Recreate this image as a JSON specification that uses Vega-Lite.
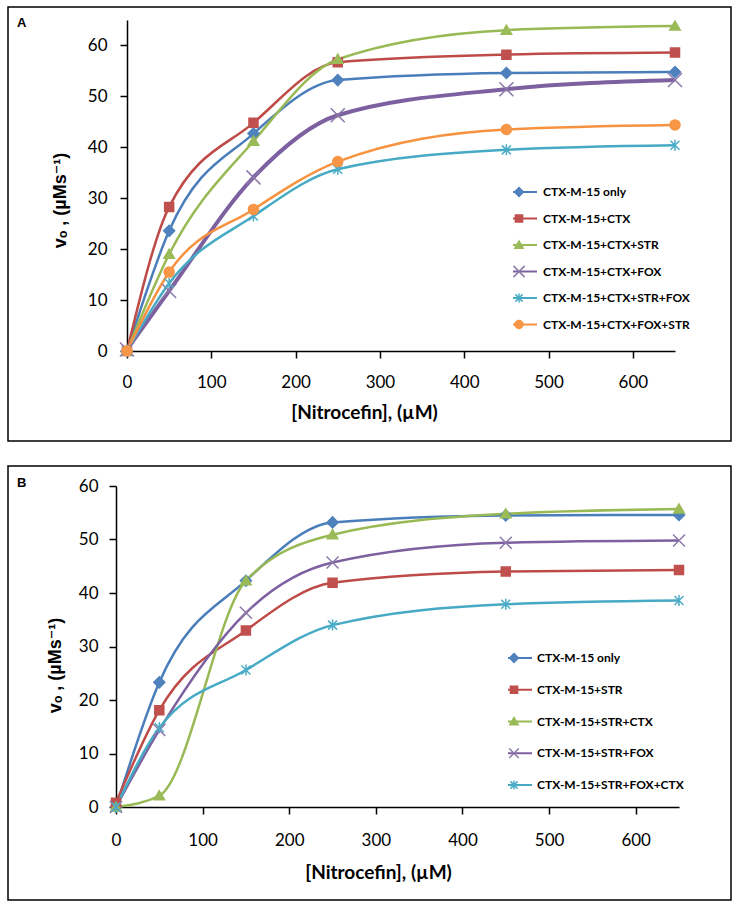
{
  "$schema": "https://vega.github.io/schema/vega-lite/v6.json",
  "padding": {"left": 7, "top": 6, "right": 0, "bottom": 0},
  "spacing": 23,
  "config": {
    "font": "Lato",
    "view": {"stroke": "#000", "strokeWidth": 1.5},
    "axis": {
      "grid": false, "domainColor": "#000", "domainWidth": 1.5,
      "tickColor": "#000", "tickWidth": 1.5, "tickSize": 7,
      "labelFont": "Lato", "labelFontSize": 17, "labelColor": "#000",
      "titleColor": "#000", "titleFontWeight": "bold",
      "labelFlush": false, "labelOverlap": false
    },
    "axisX": {"labelPadding": 16, "titleFont": "Lato", "titleFontSize": 19, "titleBaseline": "middle", "titleAlign": "center"},
    "axisY": {"labelPadding": 13, "titleFont": "Liberation Sans, DejaVu Sans", "titleFontSize": 18, "titleBaseline": "middle", "titleAlign": "center", "titleAngle": -90},
    "legend": {"labelFont": "Lato", "labelFontSize": 12, "labelFontWeight": "bold", "labelColor": "#000", "padding": 0, "clipHeight": 16}
  },
  "resolve": {"scale": {"x": "independent", "y": "independent", "color": "independent", "fill": "independent", "stroke": "independent", "shape": "independent", "strokeWidth": "independent"}, "legend": {"color": "independent", "fill": "independent", "stroke": "independent", "shape": "independent"}},
  "datasets": {
    "panelA": [
      {"series": "CTX-M-15 only", "x": 0, "y": 0},
      {"series": "CTX-M-15 only", "x": 50, "y": 23.6},
      {"series": "CTX-M-15 only", "x": 150, "y": 42.7},
      {"series": "CTX-M-15 only", "x": 250, "y": 53.2},
      {"series": "CTX-M-15 only", "x": 450, "y": 54.6},
      {"series": "CTX-M-15 only", "x": 650, "y": 54.8},
      {"series": "CTX-M-15+CTX", "x": 0, "y": 0},
      {"series": "CTX-M-15+CTX", "x": 50, "y": 28.3},
      {"series": "CTX-M-15+CTX", "x": 150, "y": 44.8},
      {"series": "CTX-M-15+CTX", "x": 250, "y": 56.7},
      {"series": "CTX-M-15+CTX", "x": 450, "y": 58.2},
      {"series": "CTX-M-15+CTX", "x": 650, "y": 58.6},
      {"series": "CTX-M-15+CTX+STR", "x": 0, "y": 0},
      {"series": "CTX-M-15+CTX+STR", "x": 50, "y": 19.0},
      {"series": "CTX-M-15+CTX+STR", "x": 150, "y": 41.2},
      {"series": "CTX-M-15+CTX+STR", "x": 250, "y": 57.3},
      {"series": "CTX-M-15+CTX+STR", "x": 450, "y": 63.0},
      {"series": "CTX-M-15+CTX+STR", "x": 650, "y": 63.8},
      {"series": "CTX-M-15+CTX+FOX", "x": 0, "y": 0.3},
      {"series": "CTX-M-15+CTX+FOX", "x": 50, "y": 11.8},
      {"series": "CTX-M-15+CTX+FOX", "x": 150, "y": 34.1},
      {"series": "CTX-M-15+CTX+FOX", "x": 250, "y": 46.3},
      {"series": "CTX-M-15+CTX+FOX", "x": 450, "y": 51.4},
      {"series": "CTX-M-15+CTX+FOX", "x": 650, "y": 53.2},
      {"series": "CTX-M-15+CTX+STR+FOX", "x": 0, "y": 0},
      {"series": "CTX-M-15+CTX+STR+FOX", "x": 50, "y": 13.3},
      {"series": "CTX-M-15+CTX+STR+FOX", "x": 150, "y": 26.5},
      {"series": "CTX-M-15+CTX+STR+FOX", "x": 250, "y": 35.7},
      {"series": "CTX-M-15+CTX+STR+FOX", "x": 450, "y": 39.5},
      {"series": "CTX-M-15+CTX+STR+FOX", "x": 650, "y": 40.4},
      {"series": "CTX-M-15+CTX+FOX+STR", "x": 0, "y": 0},
      {"series": "CTX-M-15+CTX+FOX+STR", "x": 50, "y": 15.5},
      {"series": "CTX-M-15+CTX+FOX+STR", "x": 150, "y": 27.8},
      {"series": "CTX-M-15+CTX+FOX+STR", "x": 250, "y": 37.2},
      {"series": "CTX-M-15+CTX+FOX+STR", "x": 450, "y": 43.5},
      {"series": "CTX-M-15+CTX+FOX+STR", "x": 650, "y": 44.4}
    ],
    "panelB": [
      {"series": "CTX-M-15 only", "x": 0, "y": 0},
      {"series": "CTX-M-15 only", "x": 50, "y": 23.3},
      {"series": "CTX-M-15 only", "x": 150, "y": 42.3},
      {"series": "CTX-M-15 only", "x": 250, "y": 53.2},
      {"series": "CTX-M-15 only", "x": 450, "y": 54.5},
      {"series": "CTX-M-15 only", "x": 650, "y": 54.6},
      {"series": "CTX-M-15+STR", "x": 0, "y": 0.8},
      {"series": "CTX-M-15+STR", "x": 50, "y": 18.1},
      {"series": "CTX-M-15+STR", "x": 150, "y": 33.0},
      {"series": "CTX-M-15+STR", "x": 250, "y": 41.9},
      {"series": "CTX-M-15+STR", "x": 450, "y": 44.0},
      {"series": "CTX-M-15+STR", "x": 650, "y": 44.3},
      {"series": "CTX-M-15+STR+CTX", "x": 0, "y": 0},
      {"series": "CTX-M-15+STR+CTX", "x": 50, "y": 2.1},
      {"series": "CTX-M-15+STR+CTX", "x": 150, "y": 42.3},
      {"series": "CTX-M-15+STR+CTX", "x": 250, "y": 50.9},
      {"series": "CTX-M-15+STR+CTX", "x": 450, "y": 54.8},
      {"series": "CTX-M-15+STR+CTX", "x": 650, "y": 55.7},
      {"series": "CTX-M-15+STR+FOX", "x": 0, "y": 0},
      {"series": "CTX-M-15+STR+FOX", "x": 50, "y": 14.4},
      {"series": "CTX-M-15+STR+FOX", "x": 150, "y": 36.3},
      {"series": "CTX-M-15+STR+FOX", "x": 250, "y": 45.7},
      {"series": "CTX-M-15+STR+FOX", "x": 450, "y": 49.4},
      {"series": "CTX-M-15+STR+FOX", "x": 650, "y": 49.8},
      {"series": "CTX-M-15+STR+FOX+CTX", "x": 0, "y": 0},
      {"series": "CTX-M-15+STR+FOX+CTX", "x": 50, "y": 14.8},
      {"series": "CTX-M-15+STR+FOX+CTX", "x": 150, "y": 25.6},
      {"series": "CTX-M-15+STR+FOX+CTX", "x": 250, "y": 34.0},
      {"series": "CTX-M-15+STR+FOX+CTX", "x": 450, "y": 37.9},
      {"series": "CTX-M-15+STR+FOX+CTX", "x": 650, "y": 38.6}
    ]
  },
  "vconcat": [
    {
      "width": 723,
      "height": 434,
      "title": {"text": "A", "anchor": "start", "frame": "group", "orient": "top", "offset": -23, "dx": 9, "font": "Liberation Sans", "fontSize": 13, "fontWeight": "bold", "color": "#000"},
      "data": {"name": "panelA"},
      "encoding": {
        "x": {
          "field": "x", "type": "quantitative",
          "scale": {"domain": [0, 650], "range": [119, 667], "nice": false},
          "axis": {"title": "[Nitrocefin], (µM)", "offset": -90, "values": [0, 100, 200, 300, 400, 500, 600], "titleX": 356, "titleY": 61}
        },
        "y": {
          "field": "y", "type": "quantitative",
          "scale": {"domain": [0, 65], "range": [344, 13], "nice": false, "zero": false},
          "axis": {"title": "vₒ , (µMs⁻¹)", "offset": -119, "values": [0, 10, 20, 30, 40, 50, 60], "titleX": -67, "titleY": 193}
        }
      },
      "layer": [
        {
          "mark": {"type": "line", "interpolate": "monotone"},
          "encoding": {
            "color": {
              "field": "series", "type": "nominal",
              "sort": ["CTX-M-15 only", "CTX-M-15+CTX", "CTX-M-15+CTX+STR", "CTX-M-15+CTX+FOX", "CTX-M-15+CTX+STR+FOX", "CTX-M-15+CTX+FOX+STR"],
              "scale": {"range": ["#4A7EBB", "#BE4B48", "#98B954", "#7D60A0", "#46AAC5", "#F69240"]},
              "legend": {
                "title": null, "orient": "none", "legendX": 505, "legendY": 177,
                "symbolType": "M-4.5,0H4.5", "symbolSize": 64, "symbolStrokeWidth": 2,
                "labelOffset": 18, "rowPadding": 10.5, "labelOpacity": 0
              }
            },
            "strokeWidth": {
              "field": "series", "type": "nominal",
              "scale": {"type": "ordinal", "range": [2.5, 2.5, 4, 2.5, 2.5, 2.5]},
              "legend": null
            }
          }
        },
        {
          "mark": {"type": "point", "filled": true, "size": 100, "strokeWidth": 1.5, "opacity": 1},
          "encoding": {
            "fill": {
              "field": "series", "type": "nominal",
              "scale": {"domain": ["CTX-M-15 only", "CTX-M-15+CTX", "CTX-M-15+CTX+STR", "CTX-M-15+CTX+FOX", "CTX-M-15+CTX+STR+FOX", "CTX-M-15+CTX+FOX+STR"], "range": ["#4F81BD", "#C0504D", "#9BBB59", "#8064A2", "#4BACC6", "#F79646"]},
              "legend": {
                "title": null, "orient": "none", "legendX": 505, "legendY": 177,
                "symbolSize": 64, "symbolStrokeWidth": 1.5, "labelOffset": 18, "rowPadding": 10.5
              }
            },
            "stroke": {
              "field": "series", "type": "nominal",
              "scale": {"domain": ["CTX-M-15 only", "CTX-M-15+CTX", "CTX-M-15+CTX+STR", "CTX-M-15+CTX+FOX", "CTX-M-15+CTX+STR+FOX", "CTX-M-15+CTX+FOX+STR"], "range": ["#4F81BD", "#C0504D", "#9BBB59", "#8B78A8", "#4BACC6", "#F79646"]},
              "legend": {
                "title": null, "orient": "none", "legendX": 505, "legendY": 177,
                "symbolSize": 64, "symbolStrokeWidth": 1.5, "labelOffset": 18, "rowPadding": 10.5
              }
            },
            "shape": {
              "field": "series", "type": "nominal",
              "scale": {
                "domain": ["CTX-M-15 only", "CTX-M-15+CTX", "CTX-M-15+CTX+STR", "CTX-M-15+CTX+FOX", "CTX-M-15+CTX+STR+FOX", "CTX-M-15+CTX+FOX+STR"],
                "range": ["M0,-1.1L1.1,0L0,1.1L-1.1,0Z", "M-0.9,-0.9H0.9V0.9H-0.9Z", "M0,-1L1.05,0.8H-1.05Z", "M-1.4,-1.4L1.4,1.4M-1.4,1.4L1.4,-1.4", "M-0.9,-0.9L0.9,0.9M-0.9,0.9L0.9,-0.9M0,-1.1V1.1", "M1,0A1,1,0,1,1,-1,0A1,1,0,1,1,1,0Z"]
              },
              "legend": {
                "title": null, "orient": "none", "legendX": 505, "legendY": 177,
                "symbolSize": 64, "symbolStrokeWidth": 1.5, "labelOffset": 18, "rowPadding": 10.5
              }
            }
          }
        }
      ]
    },
    {
      "width": 723,
      "height": 434,
      "title": {"text": "B", "anchor": "start", "frame": "group", "orient": "top", "offset": -24, "dx": 9, "font": "Liberation Sans", "fontSize": 13, "fontWeight": "bold", "color": "#000"},
      "data": {"name": "panelB"},
      "encoding": {
        "x": {
          "field": "x", "type": "quantitative",
          "scale": {"domain": [0, 650], "range": [108, 671], "nice": false},
          "axis": {"title": "[Nitrocefin], (µM)", "offset": -93, "values": [0, 100, 200, 300, 400, 500, 600], "titleX": 370, "titleY": 65, "labelPadding": 18}
        },
        "y": {
          "field": "y", "type": "quantitative",
          "scale": {"domain": [0, 60], "range": [341, 20], "nice": false, "zero": false},
          "axis": {"title": "vₒ , (µMs⁻¹)", "offset": -108, "values": [0, 10, 20, 30, 40, 50, 60], "titleX": -61, "titleY": 199, "labelPadding": 11}
        }
      },
      "layer": [
        {
          "mark": {"type": "line", "interpolate": "monotone", "strokeWidth": 2.5},
          "encoding": {
            "color": {
              "field": "series", "type": "nominal",
              "sort": ["CTX-M-15 only", "CTX-M-15+STR", "CTX-M-15+STR+CTX", "CTX-M-15+STR+FOX", "CTX-M-15+STR+FOX+CTX"],
              "scale": {"range": ["#4A7EBB", "#BE4B48", "#98B954", "#7D60A0", "#46AAC5"]},
              "legend": {
                "title": null, "orient": "none", "legendX": 500, "legendY": 184,
                "symbolType": "M-4.5,0H4.5", "symbolSize": 64, "symbolStrokeWidth": 2,
                "labelOffset": 17, "rowPadding": 15.75, "labelOpacity": 0
              }
            }
          }
        },
        {
          "mark": {"type": "point", "filled": true, "size": 100, "strokeWidth": 1.5, "opacity": 1},
          "encoding": {
            "fill": {
              "field": "series", "type": "nominal",
              "scale": {"domain": ["CTX-M-15 only", "CTX-M-15+STR", "CTX-M-15+STR+CTX", "CTX-M-15+STR+FOX", "CTX-M-15+STR+FOX+CTX"], "range": ["#4F81BD", "#C0504D", "#9BBB59", "#8064A2", "#4BACC6"]},
              "legend": {
                "title": null, "orient": "none", "legendX": 500, "legendY": 184,
                "symbolSize": 64, "symbolStrokeWidth": 1.5, "labelOffset": 17, "rowPadding": 15.75
              }
            },
            "stroke": {
              "field": "series", "type": "nominal",
              "scale": {"domain": ["CTX-M-15 only", "CTX-M-15+STR", "CTX-M-15+STR+CTX", "CTX-M-15+STR+FOX", "CTX-M-15+STR+FOX+CTX"], "range": ["#4F81BD", "#C0504D", "#9BBB59", "#8B78A8", "#4BACC6"]},
              "legend": {
                "title": null, "orient": "none", "legendX": 500, "legendY": 184,
                "symbolSize": 64, "symbolStrokeWidth": 1.5, "labelOffset": 17, "rowPadding": 15.75
              }
            },
            "shape": {
              "field": "series", "type": "nominal",
              "scale": {
                "domain": ["CTX-M-15 only", "CTX-M-15+STR", "CTX-M-15+STR+CTX", "CTX-M-15+STR+FOX", "CTX-M-15+STR+FOX+CTX"],
                "range": ["M0,-1.1L1.1,0L0,1.1L-1.1,0Z", "M-0.9,-0.9H0.9V0.9H-0.9Z", "M0,-1L1.05,0.8H-1.05Z", "M-1.2,-1.2L1.2,1.2M-1.2,1.2L1.2,-1.2", "M-0.9,-0.9L0.9,0.9M-0.9,0.9L0.9,-0.9M0,-1.1V1.1"]
              },
              "legend": {
                "title": null, "orient": "none", "legendX": 500, "legendY": 184,
                "symbolSize": 64, "symbolStrokeWidth": 1.5, "labelOffset": 17, "rowPadding": 15.75
              }
            }
          }
        }
      ]
    }
  ]
}
